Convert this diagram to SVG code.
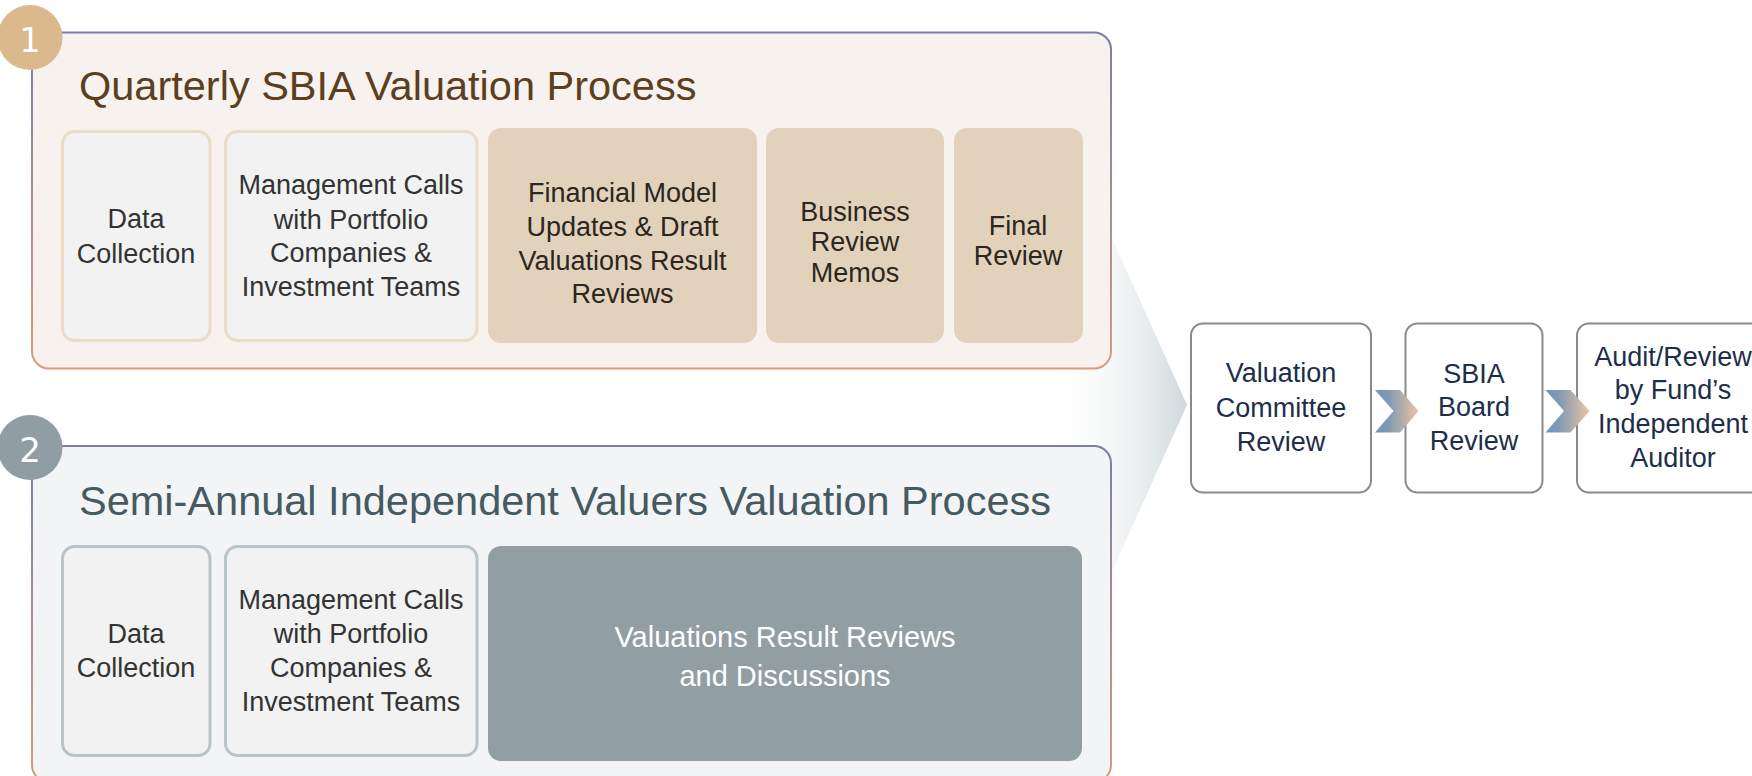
<svg xmlns="http://www.w3.org/2000/svg" width="1752" height="776" viewBox="0 0 1752 776">
  <defs>
    <linearGradient id="frameStroke" x1="0" y1="0" x2="0" y2="1">
      <stop offset="0" stop-color="#7b7ea8"/>
      <stop offset="1" stop-color="#d59c80"/>
    </linearGradient>
    <linearGradient id="funnelFill" gradientUnits="userSpaceOnUse" x1="1045" y1="0" x2="1187" y2="0">
      <stop offset="0" stop-color="#ffffff" stop-opacity="0"/>
      <stop offset="1" stop-color="#d0d8db"/>
    </linearGradient>
    <linearGradient id="chevFill" x1="0" y1="0" x2="1" y2="0">
      <stop offset="0" stop-color="#7395b6"/>
      <stop offset="0.3" stop-color="#7f9ab3"/>
      <stop offset="1" stop-color="#edc3a2"/>
    </linearGradient>
    <style>
      text { font-family: "Liberation Sans", Arial, sans-serif; text-anchor: middle; }
      .frame { stroke: url(#frameStroke); stroke-width: 2; }
      .f1 { fill: #f7f2ee; }
      .f2 { fill: #f3f4f6; }
      .light1 { fill: #f2f2f2; stroke: #ebdcc7; stroke-width: 3; }
      .light2 { fill: #f2f2f2; stroke: #b9c5c9; stroke-width: 3; }
      .tan { fill: #e3d2bb; }
      .gray { fill: #919fa3; }
      .body { font-size: 27px; fill: #333333; }
      .bodyTan { font-size: 27px; fill: #2b2620; }
      .bodyWhite { font-size: 29px; fill: #ffffff; }
      .title1 { font-size: 41.5px; fill: #5b3f1f; text-anchor: start; }
      .title2 { font-size: 41.5px; fill: #465a61; text-anchor: start; }
      .badgeNum { font-family: "DejaVu Sans", sans-serif; fill: #ffffff; }
      .step { fill: #ffffff; stroke: #8a8a8a; stroke-width: 2; }
      .stepText { font-size: 27px; fill: #1d2e4a; }
    </style>
  </defs>

  <g id="connectors">
    <polygon id="funnel" points="1000,-11 1187,405 1000,820" fill="url(#funnelFill)"/>
  </g>

  <g id="process1">
    <rect class="frame f1" x="32" y="32.5" width="1079" height="336" rx="17"/>
    <text class="title1" x="79" y="100">Quarterly SBIA Valuation Process</text>
  </g>
  <g id="badge1">
    <circle cx="30" cy="37.5" r="32.5" fill="#dbb98c"/>
    <text class="badgeNum" x="30" y="52" font-size="33">1</text>
  </g>
  <g id="q-data-collection">
    <rect class="light1" x="62.5" y="131.5" width="147.5" height="209" rx="12"/>
    <text class="body" x="136" y="228">Data</text>
    <text class="body" x="136" y="263">Collection</text>
  </g>
  <g id="q-management-calls">
    <rect class="light1" x="225.5" y="131.5" width="251.5" height="209" rx="12"/>
    <text class="body" x="351" y="194">Management Calls</text>
    <text class="body" x="351" y="229">with Portfolio</text>
    <text class="body" x="351" y="262">Companies &amp;</text>
    <text class="body" x="351" y="296">Investment Teams</text>
  </g>
  <g id="q-financial-model">
    <rect class="tan" x="488" y="128" width="269" height="215" rx="13"/>
    <text class="bodyTan" x="622.5" y="202">Financial Model</text>
    <text class="bodyTan" x="622.5" y="236">Updates &amp; Draft</text>
    <text class="bodyTan" x="622.5" y="270">Valuations Result</text>
    <text class="bodyTan" x="622.5" y="303">Reviews</text>
  </g>
  <g id="q-business-review">
    <rect class="tan" x="766" y="128" width="178" height="215" rx="13"/>
    <text class="bodyTan" x="855" y="221">Business</text>
    <text class="bodyTan" x="855" y="251">Review</text>
    <text class="bodyTan" x="855" y="282">Memos</text>
  </g>
  <g id="q-final-review">
    <rect class="tan" x="954" y="128" width="129" height="215" rx="13"/>
    <text class="bodyTan" x="1018" y="235">Final</text>
    <text class="bodyTan" x="1018" y="265">Review</text>
  </g>

  <g id="process2">
    <rect class="frame f2" x="32" y="446" width="1079" height="336" rx="17"/>
    <text class="title2" x="79" y="515">Semi-Annual Independent Valuers Valuation Process</text>
  </g>
  <g id="badge2">
    <circle cx="30" cy="447.5" r="32.5" fill="#8e9ea2"/>
    <text class="badgeNum" x="30" y="462" font-size="34">2</text>
  </g>
  <g id="s-data-collection">
    <rect class="light2" x="62.5" y="546.5" width="147.5" height="209" rx="12"/>
    <text class="body" x="136" y="643">Data</text>
    <text class="body" x="136" y="677">Collection</text>
  </g>
  <g id="s-management-calls">
    <rect class="light2" x="225.5" y="546.5" width="251.5" height="209" rx="12"/>
    <text class="body" x="351" y="609">Management Calls</text>
    <text class="body" x="351" y="643">with Portfolio</text>
    <text class="body" x="351" y="677">Companies &amp;</text>
    <text class="body" x="351" y="711">Investment Teams</text>
  </g>
  <g id="s-valuations-result">
    <rect class="gray" x="488" y="546" width="594" height="215" rx="13"/>
    <text class="bodyWhite" x="785" y="647">Valuations Result Reviews</text>
    <text class="bodyWhite" x="785" y="686">and Discussions</text>
  </g>

  <g id="valuation-committee">
    <rect class="step" x="1191" y="323.5" width="180" height="169" rx="12"/>
    <text class="stepText" x="1281" y="382">Valuation</text>
    <text class="stepText" x="1281" y="417">Committee</text>
    <text class="stepText" x="1281" y="451">Review</text>
  </g>
  <g id="sbia-board">
    <rect class="step" x="1405.5" y="323.5" width="137" height="169" rx="12"/>
    <text class="stepText" x="1474" y="383">SBIA</text>
    <text class="stepText" x="1474" y="416">Board</text>
    <text class="stepText" x="1474" y="450">Review</text>
  </g>
  <g id="auditor">
    <rect class="step" x="1577" y="323.5" width="192" height="169" rx="12"/>
    <text class="stepText" x="1673" y="366">Audit/Review</text>
    <text class="stepText" x="1673" y="399">by Fund’s</text>
    <text class="stepText" x="1673" y="433">Independent</text>
    <text class="stepText" x="1673" y="467">Auditor</text>
  </g>

  <g id="chevrons">
    <polygon fill="url(#chevFill)" points="1375,390 1400,390 1418.5,411 1400,432.5 1375,432.5 1393.5,411"/>
    <polygon fill="url(#chevFill)" points="1545.5,390 1570.5,390 1589.5,411 1570.5,432.5 1545.5,432.5 1564,411"/>
  </g>
</svg>
